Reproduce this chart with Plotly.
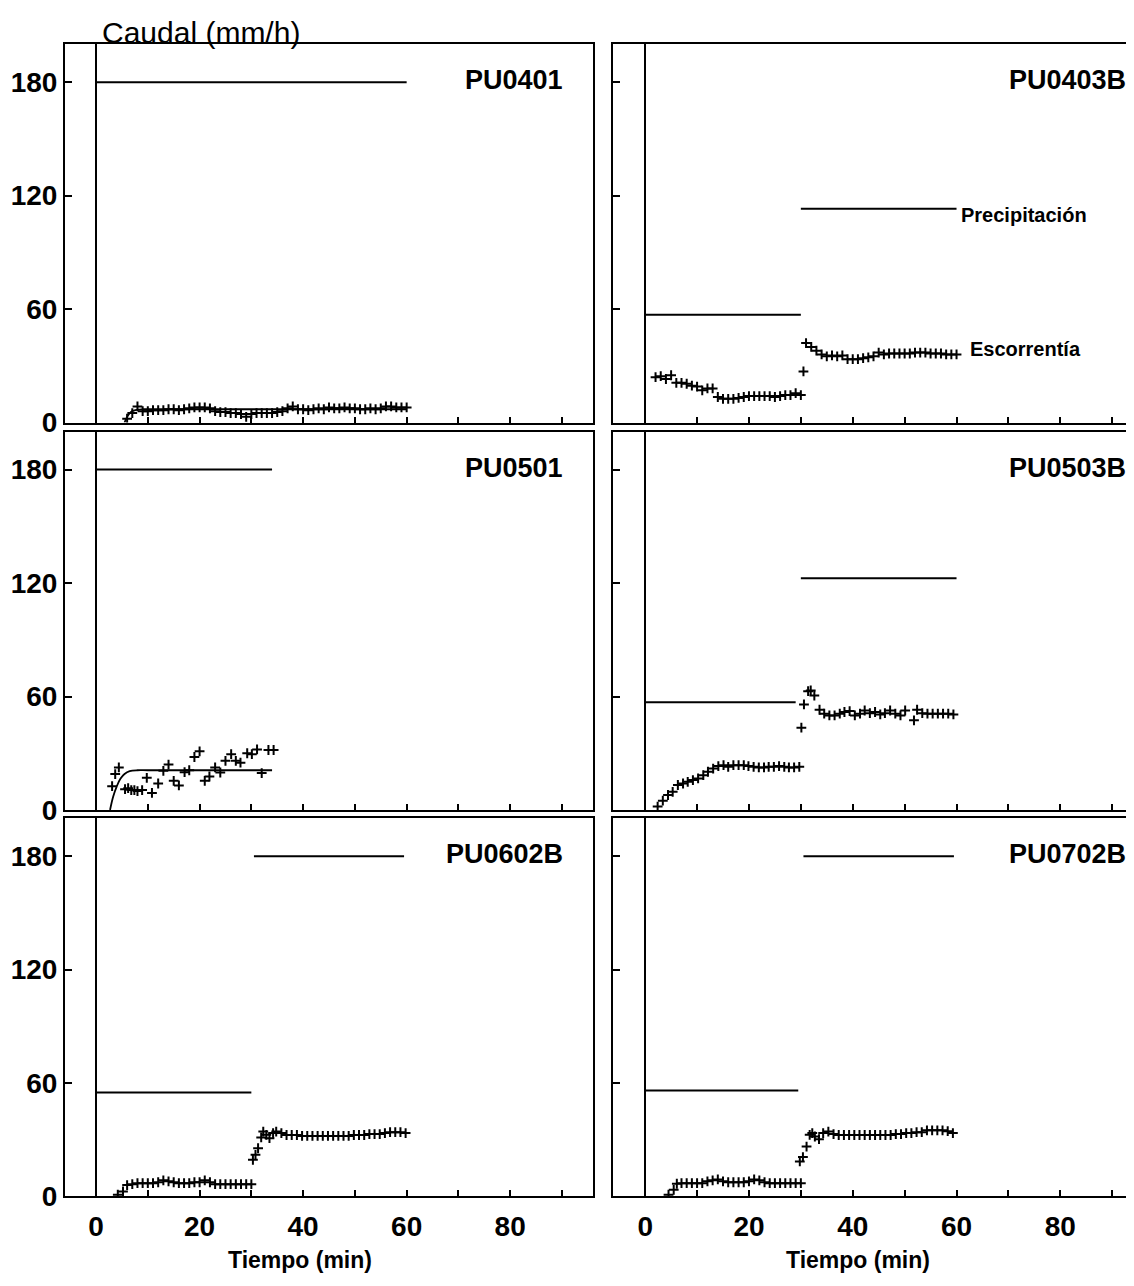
import plotly.graph_objects as go

# ---------------- data ----------------
panel_names = ["PU0401", "PU0403B", "PU0501", "PU0503B", "PU0602B", "PU0702B"]

# precipitation segments: (start min, end min, intensity mm/h)
precip_0401 = [(0, 60, 180)]
precip_0403B = [(0, 30, 57), (30, 60, 113)]
precip_0501 = [(0, 34, 180)]
precip_0503B = [(0, 29, 57), (30, 60, 122.5)]
precip_0602B = [(0, 30, 55), (30.5, 59.5, 180)]
precip_0702B = [(0, 29.5, 56), (30.5, 59.5, 180)]

# runoff observations (time in min, runoff in mm/h)
t_0401 = [6, 7, 8, 9, 10, 11, 12, 13, 14, 15, 16, 17, 18, 19, 20, 21, 22, 23, 24, 25,
          26, 27, 28, 29, 30, 31, 32, 33, 34, 35, 36, 37, 38, 39, 40, 41, 42, 43, 44, 45,
          46, 47, 48, 49, 50, 51, 52, 53, 54, 55, 56, 57, 58, 59, 60]
q_0401 = [2, 5, 8.5, 6, 6, 6.5, 6.5, 6.5, 7, 7, 6.5, 7, 7.5, 8, 8, 8, 7.5, 6, 5.5, 5.5,
          5, 5, 4.5, 3, 4.5, 5, 5, 5, 5, 5.5, 6, 7.5, 8.5, 7, 7, 6.5, 7, 7.5, 7, 8,
          7.5, 7.5, 8, 7.5, 7.5, 7, 7, 7.5, 7, 7.5, 8.5, 8.5, 8, 8, 8]
fit_t_0401 = [5.5, 6, 6.5, 7, 8, 9, 10, 60]
fit_q_0401 = [0, 3, 5, 6, 6.8, 7, 7, 7]

t_0403B = [2, 3, 4, 5, 6, 7, 8, 9, 10, 11, 12, 13, 14, 15, 16, 17, 18, 19, 20, 21,
           22, 23, 24, 25, 26, 27, 28, 29, 30, 30.5,
           31, 32, 33, 34, 35, 36, 37, 38, 39, 40, 41, 42, 43, 44, 45, 46, 47, 48, 49, 50,
           51, 52, 53, 54, 55, 56, 57, 58, 59, 60]
q_0403B = [24, 24.5, 23, 25, 21, 21, 20.5, 19.5, 19, 17, 18, 18, 13.5, 12.5, 12.5, 12.5, 13, 13.5, 14, 14,
           14, 14, 14, 13.5, 14, 14.5, 14.5, 15.5, 14.5, 27,
           42, 40, 38, 36, 35, 35.5, 35, 35.5, 33.5, 33.5, 33.5, 34, 34.5, 35, 37, 36, 36.5, 36.5, 36.5, 36.5,
           36.5, 37, 37, 37, 36.5, 36.5, 36.5, 36, 36, 36]

t_0501 = [3.1, 3.7, 4.4, 5.6, 6.2, 6.8, 7.4, 8.0, 8.9, 9.8, 10.8, 12, 13, 14, 15, 16, 17.1,
          18, 19, 20, 21, 21.9, 23, 24, 25, 26.1, 27, 27.9, 29.2, 30.1, 31.1, 32, 33.3, 34.3]
q_0501 = [12.6, 19, 22.5, 11, 11.5, 10.5, 10.5, 10, 10.5, 17, 9, 14, 20.7, 24, 15.4, 13, 20,
          21, 28, 31, 15.4, 17.7, 22.5, 19.8, 26, 29.5, 26, 25, 30, 29.5, 32, 19.5, 31.7, 31.7]
fit_t_0501 = [2.7, 3.3, 4, 4.7, 5.5, 6.5, 8, 10, 34]
fit_q_0501 = [0, 7, 12.5, 16.5, 19, 20.5, 21, 21, 21]

t_0503B = [2.4, 3.4, 4.4, 5.3, 6.3, 7.3, 8.2, 9.2, 10.2, 11.2, 12.1, 13.1, 14.1, 15.1, 16, 17,
           18, 19, 19.9, 20.9, 21.9, 22.9, 23.8, 24.8, 25.8, 26.8, 27.7, 28.7, 29.7,
           30.1, 30.6, 31.4, 31.9, 32.6, 33.6, 34.5, 35.5, 36.5, 37.5, 38.4, 39.4, 40.4, 41.4,
           42.3, 43.3, 44.3, 45.3, 46.2, 47.2, 48.2, 49.2, 50.1, 51.8, 52.4, 53.4, 54.4, 55.4,
           56.4, 57.4, 58.4, 59.4]
q_0503B = [1.8, 4.9, 7.9, 9.6, 13.2, 14, 14.9, 15.8, 16.7, 18.4, 20.2, 21.9, 23.2, 23.7, 22.8, 23.7,
           23.7, 23.7, 23.2, 22.8, 22.5, 22.5, 22.8, 22.8, 23.2, 22.8, 22.5, 22.5, 22.8,
           43.5, 55.8, 62.8, 63.2, 60.5, 53, 50.9, 50, 50, 50.9, 51.8, 52.3, 50, 50.9,
           52.6, 51.2, 51.8, 50.5, 51.2, 52.6, 50.9, 50, 52.6, 47.4, 53, 51.2, 50.9, 50.9,
           50.9, 50.9, 50.9, 50.5]

t_0602B = [4.2, 5.2, 6, 7, 8, 9, 10, 11, 12, 13, 14, 15, 16, 17, 18, 19, 20, 21, 22, 23,
           24, 25, 26, 27, 28, 29, 30,
           30.3, 30.8, 31.3, 31.9, 32.3, 32.9, 33.5, 34.2, 34.8, 35.8, 36.8, 37.8, 38.8, 39.8,
           40.8, 41.8, 42.8, 43.8, 44.8, 45.8, 46.8, 47.8, 48.8, 49.8, 50.8, 51.8, 52.8, 53.8,
           54.8, 55.8, 56.8, 57.8, 58.8, 59.8]
q_0602B = [0.9, 2.6, 6, 6.5, 7, 7, 7, 7, 7.5, 8.5, 8, 7.5, 7, 7, 7, 7.5, 7.5, 8.5, 7.5, 6.5,
           6.5, 6.5, 6.5, 6.5, 6.5, 6.5, 6.5,
           19.4, 22, 25.5, 31.2, 34.3, 32.6, 30.8, 33.5, 34.3, 33.5, 32.5, 32.5, 32.5, 32,
           32, 32, 32, 32, 32, 32, 32, 32, 32, 32.5, 32.5, 32.5, 33, 33,
           33, 33.5, 34, 34, 34, 33.5]

t_0702B = [4.5, 5.5, 6.1, 7, 8, 9, 10, 11, 12, 13, 14, 15, 16, 17, 18, 19, 20, 21, 22, 23,
           24, 25, 26, 27, 28, 29, 30,
           29.8, 30.4, 31.1, 31.7, 32.2, 32.7, 33.5, 34.3, 35.3, 36.3, 37.3, 38.3, 39.3, 40.3,
           41.3, 42.3, 43.3, 44.3, 45.3, 46.3, 47.3, 48.3, 49.3, 50.3, 51.3, 52.3, 53.3, 54.3,
           55.3, 56.3, 57.3, 58.3, 59.3]
q_0702B = [0.9, 3.5, 6.7, 7, 7, 7, 7, 7, 8, 8.5, 9, 8, 7.5, 7.5, 7.5, 7.5, 8, 9, 8.5, 7.5,
           7, 7, 7, 7, 7, 7, 7,
           18.5, 20.8, 26.4, 32.6, 33.5, 31.7, 30.3, 33.5, 34.3, 33, 32.5, 32.5, 32.5, 32.5,
           32.5, 32.5, 32.5, 32.5, 32.5, 32.5, 32.5, 33, 33, 33.5, 33.5, 34, 34, 35,
           35, 35, 35, 34.5, 33.5]

x_ticks = [0, 10, 20, 30, 40, 50, 60, 70, 80, 90]
x_tick_labels = ["0", "", "20", "", "40", "", "60", "", "80", ""]
y_ticks = [0, 60, 120, 180]
y_tick_labels = ["0", "60", "120", "180"]

panels = [
    dict(name="PU0401", precip=precip_0401, t=t_0401, q=q_0401, ft=fit_t_0401, fq=fit_q_0401),
    dict(name="PU0403B", precip=precip_0403B, t=t_0403B, q=q_0403B, ft=None, fq=None),
    dict(name="PU0501", precip=precip_0501, t=t_0501, q=q_0501, ft=fit_t_0501, fq=fit_q_0501),
    dict(name="PU0503B", precip=precip_0503B, t=t_0503B, q=q_0503B, ft=None, fq=None),
    dict(name="PU0602B", precip=precip_0602B, t=t_0602B, q=q_0602B, ft=None, fq=None),
    dict(name="PU0702B", precip=precip_0702B, t=t_0702B, q=q_0702B, ft=None, fq=None),
]

# ---------------- layout geometry ----------------
# page offset (body margin) and the slight vertical compression of the capture
OFF = 8
VS = 0.989
W, H = 1134 - OFF, 1292
FONT = "Liberation Sans"


def fx(p):  # target picture x (px) -> paper fraction
    return (p - OFF) / W


def fy(p):  # target picture y (px from top) -> paper fraction
    return 1 - (p / VS - OFF) / H


col_dom = [[fx(65), fx(593)], [fx(613), 1.0]]
row_dom = [[fy(423), fy(44.3)], [fy(811), fy(432.3)], [fy(1198), fy(819.5)]]
x_ranges = [[-6.0, 96.0], [-6.2, 94.2]]

fig = go.Figure()
layout = {}
annotations = []

for i, p in enumerate(panels):
    r, c = divmod(i, 2)
    n = "" if i == 0 else str(i + 1)
    xa, ya = "x" + n, "y" + n

    # precipitation
    px, py = [], []
    for (a, b, v) in p["precip"]:
        px += [a, b, None]
        py += [v, v, None]
    fig.add_trace(go.Scatter(x=px, y=py, xaxis=xa, yaxis=ya, mode="lines",
                             line=dict(color="black", width=2), showlegend=False,
                             hoverinfo="skip"))
    # fitted curve
    if p["ft"] is not None:
        fig.add_trace(go.Scatter(x=p["ft"], y=p["fq"], xaxis=xa, yaxis=ya, mode="lines",
                                 line=dict(color="black", width=1.8, shape="spline"),
                                 showlegend=False, hoverinfo="skip"))
    # runoff
    fig.add_trace(go.Scatter(x=p["t"], y=p["q"], xaxis=xa, yaxis=ya, mode="markers",
                             marker=dict(symbol="cross-thin", size=7, color="black",
                                         line=dict(color="black", width=2)),
                             showlegend=False))

    layout["xaxis" + n] = dict(
        domain=col_dom[c], anchor=ya, range=x_ranges[c],
        showline=True, mirror=True, linecolor="black", linewidth=2,
        ticks="inside", ticklen=6, tickwidth=1.5, tickcolor="black",
        tickvals=x_ticks, ticktext=x_tick_labels, showticklabels=(r == 2),
        ticklabelstandoff=4,
        tickfont=dict(family=FONT, size=28, color="black", weight="bold"),
        showgrid=False, zeroline=True, zerolinecolor="black", zerolinewidth=1.5,
    )
    layout["yaxis" + n] = dict(
        domain=row_dom[r], anchor=xa, range=[0, 200],
        showline=True, mirror=(c == 0), linecolor="black", linewidth=2,
        ticks="inside", ticklen=7, tickwidth=1.5, tickcolor="black",
        tickvals=y_ticks, ticktext=y_tick_labels, showticklabels=(c == 0),
        tickfont=dict(family=FONT, size=28, color="black", weight="bold"),
        showgrid=False, zeroline=False,
    )
    # panel label
    annotations.append(dict(
        text="<b>%s</b>" % p["name"], xref=xa + " domain", yref=ya + " domain",
        x=0.947 if c == 0 else 0.988, y=0.905, xanchor="right", yanchor="middle",
        showarrow=False, font=dict(family=FONT, size=27, color="black")))

# series labels in PU0403B
annotations.append(dict(text="<b>Precipitación</b>", xref="x2", yref="y2", x=60.5, y=110,
                        xanchor="left", yanchor="middle", showarrow=False,
                        font=dict(family=FONT, size=20, color="black")))
annotations.append(dict(text="<b>Escorrentía</b>", xref="x2", yref="y2", x=62.2, y=39,
                        xanchor="left", yanchor="middle", showarrow=False,
                        font=dict(family=FONT, size=20, color="black")))
# axis titles
annotations.append(dict(text="Caudal (mm/h)", xref="paper", yref="paper", x=fx(100),
                        y=fy(32), xanchor="left", yanchor="middle", showarrow=False,
                        font=dict(family=FONT, size=30, color="black")))
for xc in (300, 858):
    annotations.append(dict(text="<b>Tiempo (min)</b>", xref="paper", yref="paper", x=fx(xc),
                            y=fy(1262), xanchor="center", yanchor="middle", showarrow=False,
                            font=dict(family=FONT, size=23, color="black")))

fig.update_layout(
    width=W, height=H, margin=dict(l=0, r=0, t=0, b=0),
    paper_bgcolor="white", plot_bgcolor="white",
    annotations=annotations, showlegend=False, **layout,
)

fig.write_html("out.html")
